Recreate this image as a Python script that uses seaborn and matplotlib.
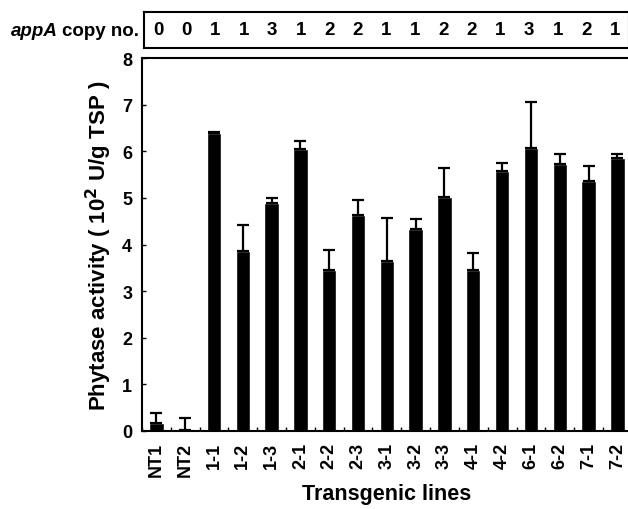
import matplotlib
matplotlib.use("Agg")
import matplotlib.pyplot as plt
import seaborn as sns
import pandas as pd
import numpy as np

lines = ["NT1", "NT2", "1-1", "1-2", "1-3", "2-1", "2-2", "2-3", "3-1", "3-2",
         "3-3", "4-1", "4-2", "6-1", "6-2", "7-1", "7-2"]
activity = [0.17, 0.02, 6.39, 3.87, 4.90, 6.05, 3.45, 4.63, 3.64, 4.33,
            5.01, 3.45, 5.58, 6.07, 5.73, 5.36, 5.85]
error = [0.22, 0.26, 0.03, 0.56, 0.10, 0.17, 0.44, 0.33, 0.94, 0.21,
         0.64, 0.37, 0.18, 0.98, 0.21, 0.33, 0.10]
copy_no = [0, 0, 1, 1, 3, 1, 2, 2, 1, 1, 2, 2, 1, 3, 1, 2, 1]
y_ticks = [0, 1, 2, 3, 4, 5, 6, 7, 8]

df = pd.DataFrame({"line": lines, "activity": activity, "err": error})

sns.set_theme(style="white")
plt.rcParams["font.family"] = ["Liberation Sans", "DejaVu Sans"]
plt.rcParams["font.weight"] = "bold"
plt.rcParams["text.color"] = "black"
plt.rcParams["axes.labelcolor"] = "black"
plt.rcParams["xtick.color"] = "black"
plt.rcParams["ytick.color"] = "black"

fig = plt.figure(figsize=(6.28, 5.10), dpi=100)
ax = fig.add_axes([0.226, 0.153, 0.780, 0.731])
sns.barplot(data=df, x="line", y="activity", order=lines, color="black",
            width=0.5, errorbar=None, saturation=1, ax=ax)
xpos = np.arange(len(lines))
ax.errorbar(xpos, df["activity"], yerr=[np.zeros(len(lines)), df["err"]],
            fmt="none", ecolor="black", elinewidth=1.6, capsize=4, capthick=1.6)

ax.set_xlim(-0.5, len(lines) - 0.5)
ax.set_ylim(0, 8)
ax.set_yticks(y_ticks)
ax.set_yticklabels([str(t) for t in y_ticks], fontsize=13, fontweight="bold")
ax.set_xticks(xpos)
ax.set_xticklabels(lines, rotation=90, fontsize=13, fontweight="bold")
ax.tick_params(axis="x", which="major", length=0, pad=8)
ax.tick_params(axis="y", which="major", direction="in", length=3, width=1, pad=7, left=True)
ax.set_xticks(np.arange(len(lines) + 1) - 0.5, minor=True)
ax.tick_params(axis="x", which="minor", direction="in", length=3, width=1, bottom=True)
for s in ax.spines.values():
    s.set_color("black")
    s.set_linewidth(1.5)
ax.set_xlabel("Transgenic lines", fontsize=15.5, fontweight="bold", labelpad=5)
ax.set_ylabel("Phytase activity ( 10$^\\mathbf{2}$ U/g TSP )", fontsize=16,
              fontweight="bold", labelpad=6)

# copy number box
bx = fig.add_axes([0.229, 0.904, 0.7725, 0.071])
bx.set_xlim(-0.5, len(lines) - 0.5)
for i, c in zip(xpos, copy_no):
    bx.text(i, 0.5, str(c), ha="center", va="center", fontsize=13.5, fontweight="bold")
bx.set_ylim(0, 1)
bx.set_xticks([])
bx.set_yticks([])
for s in bx.spines.values():
    s.set_color("black")
    s.set_linewidth(1.5)
fig.text(0.222, 0.939, "copy no.", ha="right", va="center", fontsize=13.5, fontweight="bold")
fig.canvas.draw()
t = fig.texts[0]
bb = t.get_window_extent()
fig.text(bb.x0 / fig.bbox.width - 0.007, 0.939, "appA", ha="right", va="center",
         fontsize=13.5, fontweight="bold", style="italic")

fig.savefig("out.png", dpi=100)
